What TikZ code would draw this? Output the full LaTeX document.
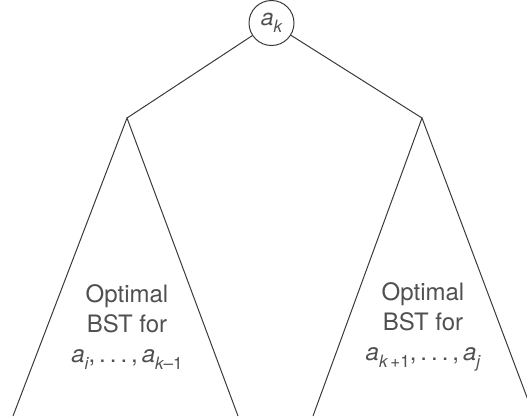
\documentclass[tikz,border=0pt]{standalone}
\usepackage{fontspec}
\setmainfont{TeX Gyre Heros}
\definecolor{linegray}{HTML}{3A3A3A}
\definecolor{textgray}{HTML}{505050}
\newcommand\sbs[1]{\raisebox{-0.28em}{\fontsize{17}{17}\selectfont #1}}
\begin{document}
\begin{tikzpicture}[x=1pt,y=-1pt,
  edge/.style={draw=linegray,line width=1pt},
  rootnode/.style={circle,draw=linegray,line width=1pt,minimum size=45pt,inner sep=0pt,font=\fontsize{23}{23}\selectfont\itshape,text=textgray},
  label/.style={align=center,font=\fontsize{24}{30}\selectfont,text=textgray,inner sep=0pt}]
\useasboundingbox (0,0) rectangle (527,416);
\clip (0,0) rectangle (527,416);
\node[rootnode] (root) at (271.5,23) {a\sbs{k}};
\coordinate (L) at (127,118);
\coordinate (R) at (422,118);
\coordinate (LL) at (13,416);
\coordinate (LR) at (238,416);
\coordinate (RL) at (313,416);
\coordinate (RR) at (534,416);
\draw[edge] (root) -- (L);
\draw[edge] (root) -- (R);
\draw[edge] (LL) -- (L) -- (LR);
\draw[edge] (RL) -- (R) -- (RR);
\node[label] (lt) at (127,327) {Optimal\\BST for\\{\itshape a}\sbs{\itshape i},\,.\,.\,.\,,\,{\itshape a}\sbs{{\itshape k}--1}};
\node[label] (rt) at (423,327) {Optimal\\BST for\\{\itshape a}\sbs{{\itshape k}\,+1},\,.\,.\,.\,,\,{\itshape a}\sbs{\itshape j}};
\end{tikzpicture}
\end{document}
